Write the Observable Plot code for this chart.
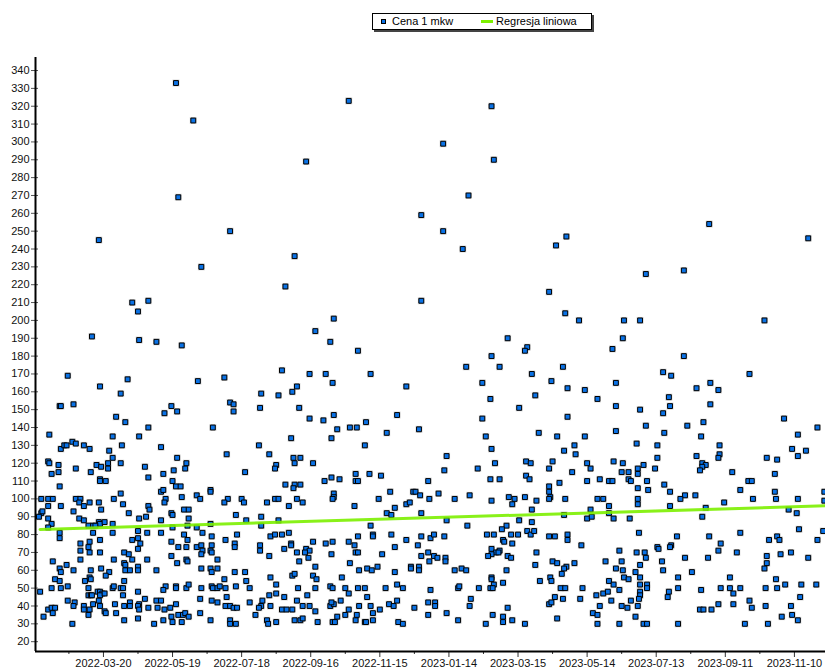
<!DOCTYPE html>
<html>
<head>
<meta charset="utf-8">
<script src="https://cdn.jsdelivr.net/npm/d3@7"></script>
<script src="https://cdn.jsdelivr.net/npm/@observablehq/plot@0.6"></script>
<style>
  body { margin: 0; background: #fff; font-family: "Liberation Sans", Arial, sans-serif; }
  #wrap { position: relative; width: 825px; height: 668px; overflow: hidden; }
  #legend { position: absolute; left: 372px; top: 13px; width: 218px; height: 15px;
    border: 1px solid #000; box-shadow: 2px 2px 0 #444; background: #fff;
    font-size: 11px; line-height: 15px; color: #000; }
  #legend .sq { position: absolute; left: 8px; top: 5px; width: 3px; height: 3px;
    background: #0a72e6; border: 1px solid #000; }
  #legend .ln { position: absolute; left: 108px; top: 6px; width: 12px; height: 3px; background: #7cf000; }
  #legend .t1 { position: absolute; left: 19px; top: 0; white-space: nowrap; }
  #legend .t2 { position: absolute; left: 123px; top: 0; white-space: nowrap; }
</style>
</head>
<body>
<div id="wrap">
  <div id="chart"></div>
  <div id="legend"><span class="sq"></span><span class="t1"></span><span class="ln"></span><span class="t2"></span></div>
</div>
<script>
// ---- data: [days since startDate, price] ----
const startDate = "2022-01-20";
const seriesName = "Cena 1 mkw";
const regressionName = "Regresja liniowa";

const obsJanJun2022 = [
[122,333],[137,312],[124,269],[55,245],[144,230],[84,210],[98,211],[89,205],[49,191],[90,189],[105,188],[127,186],
[28,169],[56,163],[80,167],[141,166],[74,159],[21,152],[22,152],[33,153],[118,152],[112,148],[123,149],[70,146],
[78,143],[98,140],[154,140],[12,136],[67,135],[90,135],[32,132],[35,131],[22,128],[25,130],[27,130],[42,130],
[47,128],[75,130],[109,129],[64,127],[67,123],[123,123],[11,121],[12,120],[20,119],[20,115],[35,117],[53,119],
[57,118],[63,120],[63,117],[74,120],[95,118],[131,120],[130,117],[14,114],[48,115],[98,112],[111,114],[120,116],
[56,111],[56,110],[61,110],[119,110],[21,107],[122,107],[126,107],[109,104],[111,105],[152,105],[152,104],[74,103],
[5,100],[11,100],[15,100],[35,100],[39,100],[68,100],[113,100],[127,101],[140,102],[143,100],[11,96],[22,96],
[38,98],[42,96],[47,98],[55,98],[76,97],[98,96],[99,94],[112,98],[57,94],[33,93],[81,92],[90,89],
[96,90],[109,88],[118,92],[119,91],[129,94],[133,94],[133,89],[5,92],[6,93],[3,90],[11,89],[14,86],
[38,89],[42,88],[46,85],[50,85],[55,87],[56,86],[60,87],[52,85],[67,86],[11,84],[119,84],[132,85],
[140,84],[152,86],[21,81],[21,78],[50,81],[67,81],[89,82],[97,81],[109,81],[129,80],[132,77],[145,81],
[153,79],[56,77],[84,77],[89,78],[91,75],[39,75],[47,76],[39,71],[46,73],[47,70],[56,70],[77,70],
[89,72],[118,76],[124,73],[131,73],[140,73],[144,74],[145,71],[153,74],[152,71],[153,70],[15,65],[27,63],
[39,66],[68,66],[77,64],[81,69],[84,66],[97,66],[118,68],[123,64],[131,66],[132,65],[144,69],[158,66],
[21,61],[22,59],[33,60],[48,60],[57,61],[64,59],[61,57],[78,63],[78,60],[82,60],[89,62],[89,60],
[105,60],[144,61],[152,61],[153,59],[158,61],[17,55],[21,54],[43,54],[47,56],[48,55],[77,54],[4,48],
[14,50],[22,50],[28,51],[46,50],[54,48],[56,48],[58,47],[67,50],[68,51],[74,50],[76,50],[76,46],
[89,48],[113,51],[111,49],[122,51],[122,50],[131,50],[133,52],[144,50],[153,51],[154,50],[158,50],[160,51],
[28,43],[34,42],[33,40],[46,46],[48,46],[49,46],[56,46],[55,43],[56,40],[60,47],[69,41],[77,40],
[82,42],[82,40],[90,41],[89,40],[90,38],[95,44],[105,43],[109,43],[106,39],[122,41],[143,44],[153,43],
[158,42],[11,38],[14,39],[17,39],[15,36],[7,34],[42,40],[42,38],[47,38],[50,41],[46,35],[60,37],
[61,36],[70,36],[98,39],[112,38],[117,39],[77,32],[89,33],[124,35],[128,35],[130,36],[133,34],[118,34],
[111,32],[119,31],[103,30],[127,31],[143,36],[152,32],[32,30]
];

const obsJulDec2022 = [
[169,250],[272,323],[235,289],[225,236],[217,219],[259,201],[243,194],[256,188],
[280,183],[214,172],[238,170],[252,170],[291,170],[164,168],[258,165],[196,159],[211,158],[223,160],[227,163],[322,163],
[169,154],[172,153],[172,149],[195,151],[229,151],[259,147],[238,145],[250,144],[287,143],[262,139],[273,140],[279,140],
[314,147],[305,137],[222,134],[257,134],[286,130],[194,130],[203,125],[166,125],[224,123],[230,123],[225,120],[241,120],
[209,119],[208,117],[182,115],[278,114],[278,110],[280,110],[290,114],[300,113],[257,112],[264,111],[251,110],[217,108],
[225,108],[230,108],[224,106],[308,104],[328,104],[330,104],[167,100],[164,98],[179,100],[181,98],[208,100],[211,100],
[201,98],[220,96],[227,100],[232,98],[259,103],[259,101],[258,100],[277,96],[298,100],[312,95],[322,97],[325,98],
[174,91],[196,90],[183,88],[211,88],[305,92],[309,91],[196,85],[291,85],[175,80],[204,79],[208,80],[214,80],
[220,81],[165,77],[173,75],[173,73],[195,74],[195,71],[216,72],[222,75],[222,74],[227,70],[235,72],[238,71],
[234,70],[241,76],[252,75],[258,76],[257,69],[272,76],[277,74],[278,70],[280,70],[280,79],[293,80],[293,79],
[309,80],[312,73],[322,77],[203,68],[237,67],[301,69],[229,65],[243,62],[273,64],[281,60],[288,61],[292,60],
[297,62],[326,62],[326,61],[173,59],[182,59],[312,59],[164,55],[183,54],[204,56],[223,57],[225,58],[241,57],
[244,55],[266,56],[165,50],[166,45],[165,40],[174,51],[186,50],[209,52],[228,50],[243,50],[256,51],[258,50],
[269,50],[280,50],[286,50],[304,50],[314,52],[319,50],[272,47],[288,45],[203,46],[209,47],[216,45],[236,46],
[186,42],[169,40],[172,39],[175,39],[197,43],[196,40],[194,39],[204,40],[214,38],[218,38],[223,38],[227,43],
[232,40],[238,40],[243,37],[256,40],[259,41],[257,42],[265,43],[272,38],[269,35],[281,40],[279,35],[291,40],
[293,36],[299,38],[307,41],[311,40],[314,43],[329,39],[191,35],[169,32],[169,30],[174,30],[201,32],[202,30],
[209,31],[225,32],[230,32],[232,33],[245,31],[258,31],[260,31],[262,34],[278,32],[286,31],[287,31],[293,32],
[315,31],[319,30]
];

const obsJanJun2023 = [
[396,320],[354,299],[398,290],[376,270],[335,259],[354,250],[461,247],[452,242],[371,240],[446,216],[335,211],[460,204],
[472,200],[410,190],[427,185],[501,184],
[425,183],[396,180],[374,174],[403,174],[458,174],[431,170],[388,165],[448,166],[462,162],[477,161],[434,158],[488,156],
[395,156],[420,151],[388,145],[462,146],[333,139],[437,137],[453,135],[477,135],[391,135],[459,127],[468,130],[469,125],
[396,128],[357,124],[426,121],[430,120],[449,121],[446,117],[399,120],[384,117],[355,116],[479,120],[482,117],[502,121],
[466,115],[426,113],[429,111],[403,111],[395,111],[341,110],[455,109],[479,110],[490,111],[498,110],[501,110],[446,107],
[446,104],[447,101],[446,100],[334,102],[342,100],[350,103],[364,100],[377,102],[396,99],[411,101],[416,100],[414,97],
[425,101],[435,99],[460,100],[488,100],[493,100],[498,96],[335,92],[431,94],[482,94],[498,92],[357,88],[375,85],
[420,88],[431,87],[409,85],[405,83],[459,91],[479,89],[483,90],[502,89],[335,79],[343,78],[346,80],[355,79],
[392,80],[398,80],[406,77],[407,76],[414,75],[413,80],[419,80],[427,82],[430,80],[433,82],[446,79],[451,79],
[462,80],[462,77],[474,74],[332,74],[341,70],[346,68],[349,67],[356,67],[356,65],[335,68],[342,65],[396,72],
[400,70],[403,71],[402,70],[396,69],[393,68],[410,68],[413,67],[435,70],[333,62],[333,60],[364,60],[370,61],
[374,60],[409,60],[434,63],[449,65],[453,64],[461,62],[459,61],[457,58],[468,64],[495,65],[396,56],[396,55],
[398,52],[406,53],[367,50],[368,51],[385,50],[395,50],[397,50],[438,54],[447,56],[448,54],[456,50],[460,50],
[475,50],[498,54],[502,52],[343,49],[378,44],[341,42],[347,42],[347,40],[377,40],[357,36],[341,35],[367,32],
[391,30],[397,35],[406,34],[406,31],[410,39],[414,32],[425,30],[446,41],[448,42],[451,45],[458,44],[473,44],
[453,33],[487,46],[493,47],[497,48],[500,43],[490,40],[484,36],[488,35],[488,30]
];

const obsJulDec2023 = [
[585,254],[671,246],[563,228],[530,226],[511,200],[525,200],[633,200],[510,190],
[563,180],[545,171],[552,169],[620,170],[504,165],[586,165],[574,162],[593,161],[550,157],[551,152],[545,148],[504,152],
[525,150],[586,153],[650,145],[530,141],[546,137],[566,141],[580,143],[578,135],[679,140],[504,138],[522,131],[540,130],
[594,130],[594,125],[593,123],[662,136],[657,128],[662,124],[669,127],[540,123],[574,124],[635,123],[644,122],[510,120],
[528,119],[523,117],[538,117],[579,120],[582,119],[579,118],[577,116],[509,115],[515,115],[523,114],[515,111],[517,110],
[605,115],[642,114],[531,110],[532,105],[523,106],[546,108],[551,104],[619,110],[622,110],[612,105],[642,104],[564,102],
[560,100],[573,102],[523,100],[523,97],[623,100],[643,100],[662,100],[685,104],[685,99],[598,98],[551,96],[582,95],
[654,94],[661,92],[516,89],[579,90],[524,81],[557,79],[585,79],[612,81],[663,83],[684,82],[637,77],[644,79],
[646,77],[679,77],[595,75],[552,74],[551,73],[540,73],[541,72],[507,71],[522,70],[529,70],[593,71],[609,70],
[635,68],[647,69],[656,70],[671,67],[530,67],[544,65],[564,67],[584,67],[509,65],[525,63],[635,64],[504,61],
[510,60],[633,61],[521,59],[525,56],[511,56],[515,55],[545,60],[570,59],[558,56],[603,56],[643,55],[507,49],
[525,52],[531,52],[531,50],[558,50],[578,49],[595,50],[603,50],[612,50],[606,47],[634,50],[644,50],[651,52],
[665,52],[678,52],[550,48],[525,48],[525,46],[549,45],[664,45],[517,43],[509,40],[514,39],[523,40],[524,44],
[577,38],[580,38],[587,38],[593,41],[606,41],[620,43],[622,39],[634,40],[656,40],[648,34],[657,35],[662,32],
[521,34],[507,30],[528,30],[531,30],[558,30],[616,30],[636,30]
];

// regression line endpoints (day, value)
const regressionDays = [4, 686];
const regressionValues = [82.9, 96.1];

// axes
const xTickLabels = ["2022-03-20","2022-05-19","2022-07-18","2022-09-16","2022-11-15","2023-01-14",
  "2023-03-15","2023-05-14","2023-07-13","2023-09-11","2023-11-10"];
const yTickValues = d3.range(20, 341, 10);
const xDomainDays = [0, 686];
const yDomain = [14.5, 347.3];

// ---- build ----
const start = new Date(startDate + "T00:00:00Z");
const toDate = d => d3.utcDay.offset(start, d);
const points = [...obsJanJun2022, ...obsJulDec2022, ...obsJanJun2023, ...obsJulDec2023]
  .map(([d, v]) => ({date: toDate(d), price: v}));
const regression = regressionDays.map((d, i) => ({date: toDate(d), price: regressionValues[i]}));
const majors = xTickLabels.map(s => new Date(s + "T00:00:00Z"));
const minors = majors.map(t => d3.utcDay.offset(t, -30));

document.querySelector("#legend .t1").textContent = seriesName;
document.querySelector("#legend .t2").textContent = regressionName;

const chart = Plot.plot({
  width: 825,
  height: 668,
  marginLeft: 35,
  marginRight: 0,
  marginTop: 57,
  marginBottom: 17,
  style: {fontFamily: "'Liberation Sans', Arial, sans-serif", fontSize: "11px", color: "#000", background: "#fff"},
  x: {type: "utc", domain: xDomainDays.map(toDate), label: null},
  y: {domain: yDomain, label: null},
  marks: [
    Plot.axisY({ticks: yTickValues, tickSize: 0, tickPadding: 6, stroke: "none", fill: "#111", label: null, fontSize: 11}),
    Plot.axisY({ticks: yTickValues, tickSize: 7, dx: 3, stroke: "#555", fill: "none", label: null}),
    Plot.axisX({ticks: majors, tickSize: 6, tickPadding: 2, stroke: "#333", fill: "#111",
      tickFormat: d3.utcFormat("%Y-%m-%d"), label: null, fontSize: 11}),
    Plot.axisX({ticks: minors, tickSize: 3, stroke: "#333", fill: "none", label: null}),
    Plot.dot(points, {x: "date", y: "price", symbol: "square", r: 3.9, fill: "#c4c4c4", fillOpacity: 0.75, stroke: "none"}),
    Plot.dot(points, {x: "date", y: "price", symbol: "square", r: 2.75, fill: "#0a72e6", stroke: "#000", strokeWidth: 1}),
    Plot.line(regression, {x: "date", y: "price", stroke: "#7cf000", strokeWidth: 3, strokeOpacity: 0.9}),
    Plot.ruleX([toDate(xDomainDays[0])], {stroke: "#000", strokeWidth: 2}),
    Plot.ruleY([yDomain[0]], {stroke: "#000", strokeWidth: 2})
  ]
});
document.getElementById("chart").appendChild(chart);
</script>
</body>
</html>
